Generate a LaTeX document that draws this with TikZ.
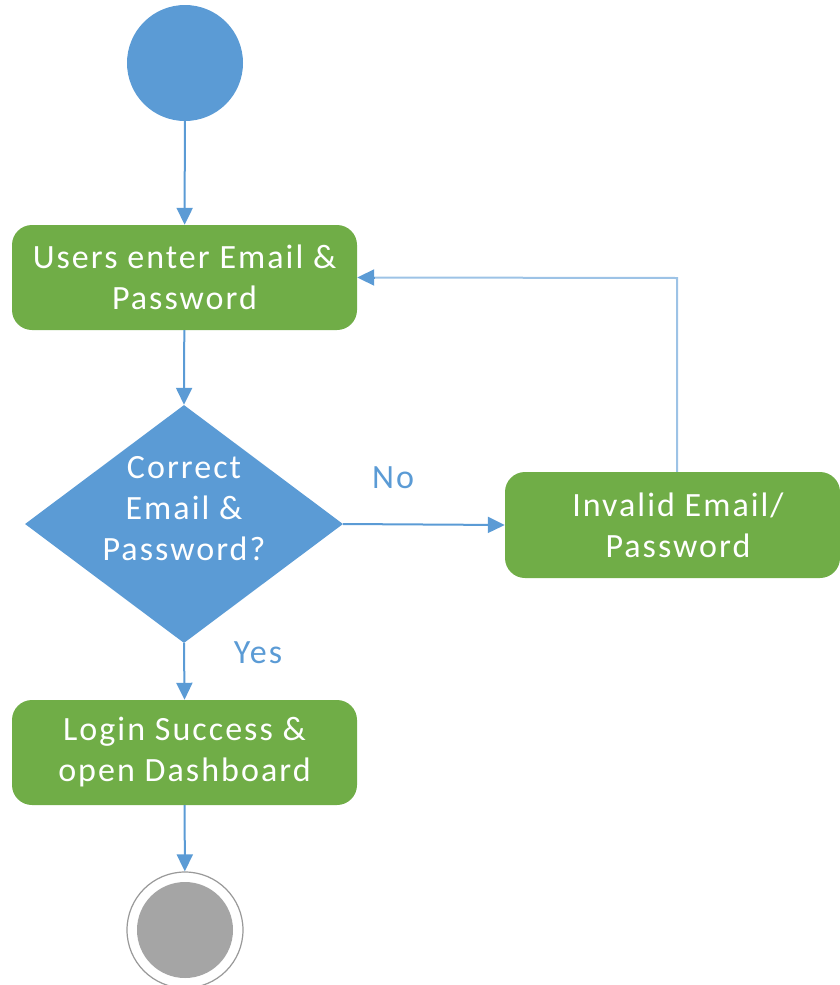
\documentclass[tikz,border=0pt]{standalone}
\usepackage{fontspec}
\setmainfont[LetterSpace=6]{Carlito}
\usetikzlibrary{shapes.geometric,arrows.meta}
\definecolor{flowblue}{HTML}{5B9BD5}
\definecolor{flowlight}{HTML}{9DC3E6}
\definecolor{flowgreen}{HTML}{70AD47}
\definecolor{endgray}{HTML}{A5A5A5}
\begin{document}
\begin{tikzpicture}[x=1pt,y=-1pt,
  every node/.style={font=\fontsize{34}{41}\selectfont},
  actbox/.style={fill=flowgreen,draw=none,rounded corners=20pt,text=white,align=center,inner sep=0pt},
  decis/.style={diamond,fill=flowblue,draw=none,text=white,align=center,inner sep=0pt},
  conn/.style={draw=flowblue,line width=2pt,-{Triangle[length=17pt,width=16pt]}},
  lbl/.style={text=flowblue}]
\useasboundingbox (0,0) rectangle (840,985);
\node[circle,fill=flowblue,minimum size=116pt,inner sep=0pt] (start) at (185,63) {};
\node[actbox,minimum width=345pt,minimum height=105pt] (enter) at (184.5,277.5) {Users enter Email \&\\Password};
\node[decis,minimum width=318pt,minimum height=238pt,aspect=1.336] (check) at (184,524) {};
\node[text=white,align=center] (checktxt) at (184,509) {Correct\\Email \&\\Password?};
\node[actbox,minimum width=335pt,minimum height=106pt] (invalid) at (672.5,525) {\hspace*{11pt}Invalid Email/\\\hspace*{11pt}Password};
\node[actbox,minimum width=345pt,minimum height=105pt] (login) at (184.5,752.5) {Login Success \&\\open Dashboard};
\node[circle,draw=gray!80,line width=1.2pt,fill=white,minimum size=116pt,inner sep=0pt] (stop) at (185,930) {};
\node[circle,fill=endgray,minimum size=96pt,inner sep=0pt] (stopin) at (185,930) {};
\draw[conn] (start) -- (enter);
\draw[conn] (enter) -- (check.north);
\draw[conn] (check.east) -- (invalid.west);
\node[lbl] (no) at (393,478) {No};
\draw[conn] (check.south) -- (login.north);
\node[lbl] (yes) at (258,653) {Yes};
\coordinate (bend) at (677,278);
\draw[draw=flowlight,line width=2pt] (invalid.north -| bend) -- (bend) -- ([xshift=16pt]enter.east);
\draw[conn] ([xshift=17pt]enter.east) -- (enter.east);
\draw[conn] (login) -- (stop);
\end{tikzpicture}
\end{document}
